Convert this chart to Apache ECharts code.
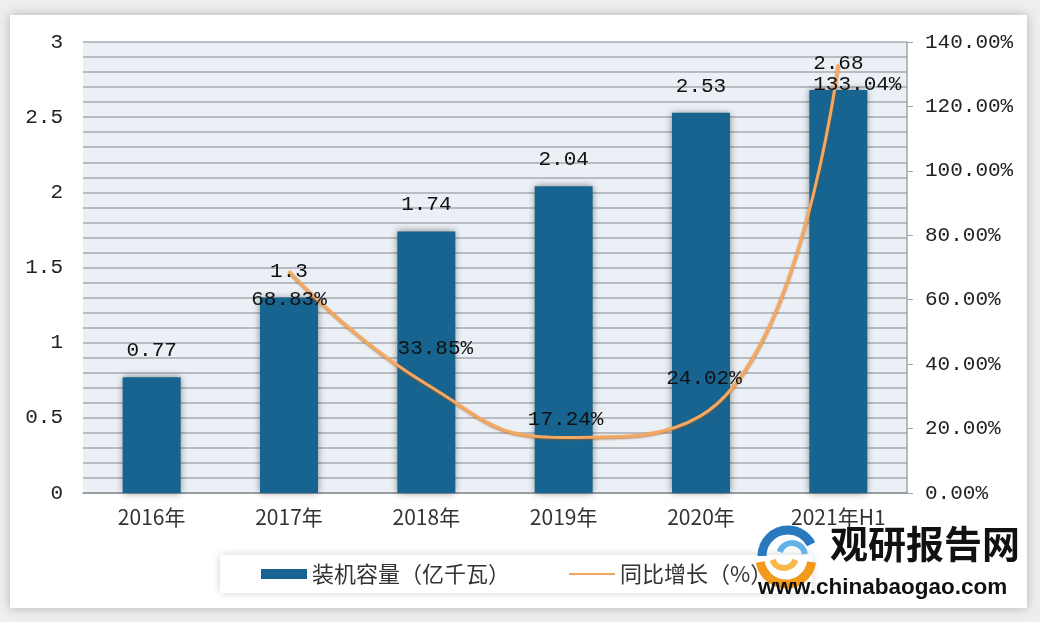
<!DOCTYPE html>
<html>
<head>
<meta charset="utf-8">
<script src="https://cdn.jsdelivr.net/npm/echarts@6/dist/echarts.min.js"></script>
<style>
html,body{margin:0;padding:0;background:#eeeeee;}
#main{width:1040px;height:622px;}
</style>
</head>
<body>
<div id="main"></div>
<script>
// ---- data ----
const categories = ['2016年', '2017年', '2018年', '2019年', '2020年', '2021年H1'];
const capacity = [0.77, 1.3, 1.74, 2.04, 2.53, 2.68];          // 装机容量（亿千瓦）
const growth = [null, 68.83, 33.85, 17.24, 24.02, 133.04];     // 同比增长（%）
const leftTicks = [0, 0.5, 1, 1.5, 2, 2.5, 3];
const rightTicks = [0, 20, 40, 60, 80, 100, 120, 140];
const seriesNames = ['装机容量（亿千瓦）', '同比增长（%）'];

// ---- style (label offsets for growth labels, px) ----
const growthLabelOffsets = [null, [0, 28], [9, -36], [2, -18], [3, -37], [19, 20]];

const numFont = 'Liberation Mono';
const cjkFont = 'Noto Sans CJK SC';

const chart = echarts.init(document.getElementById('main'));
const option = {
  backgroundColor: '#eeeeee',
  animation: false,
  graphic: [
    { type: 'rect', z: -10, shape: { x: 10, y: 15, width: 1017, height: 593 },
      style: { fill: '#ffffff', shadowBlur: 10, shadowColor: 'rgba(0,0,0,0.25)' } },
    // watermark
    { type: 'arc', z: 100, shape: { cx: 788, cy: 556, r: 26, startAngle: Math.PI * 1.0, endAngle: Math.PI * 1.85 },
      style: { stroke: '#2a78bd', lineWidth: 9, fill: null } },
    { type: 'arc', z: 100, shape: { cx: 792, cy: 556, r: 13, startAngle: Math.PI * 1.1, endAngle: Math.PI * 1.95 },
      style: { stroke: '#63b3e6', lineWidth: 6, fill: null } },
    { type: 'arc', z: 100, shape: { cx: 786, cy: 558, r: 26, startAngle: Math.PI * 0.05, endAngle: Math.PI * 0.95 },
      style: { stroke: '#f29a1c', lineWidth: 9, fill: null } },
    { type: 'arc', z: 100, shape: { cx: 784, cy: 556, r: 12, startAngle: Math.PI * 0.1, endAngle: Math.PI * 0.9 },
      style: { stroke: '#f8b84a', lineWidth: 6, fill: null } },
    { type: 'text', z: 100, left: 830, top: 525,
      style: { text: '观研报告网', fill: '#111', font: 'bold 38px "Noto Sans CJK SC"' } },
    { type: 'text', z: 100, left: 758, top: 576,
      style: { text: 'www.chinabaogao.com', fill: '#111', font: 'bold 22.5px "Liberation Sans"' } }
  ],
  grid: {
    left: 83, right: 133, top: 42, bottom: 129,
    show: true, backgroundColor: '#eaf0f5', borderWidth: 0
  },
  legend: {
    left: 220, top: 555,
    padding: [8, 40, 8, 41],
    backgroundColor: '#ffffff',
    shadowBlur: 8, shadowColor: 'rgba(0,0,0,0.18)',
    itemWidth: 46, itemHeight: 10, itemGap: 58,
    textStyle: { fontFamily: cjkFont, fontSize: 22, color: '#333' },
    data: [
      { name: seriesNames[0], icon: 'rect' },
      { name: seriesNames[1], itemStyle: { opacity: 0, color: 'rgba(0,0,0,0)', borderWidth: 0 } }
    ]
  },
  xAxis: {
    type: 'category',
    data: categories,
    axisLine: { lineStyle: { color: '#8f9397', width: 1.5 } },
    axisTick: { show: false },
    axisLabel: { fontFamily: cjkFont, fontSize: 21, color: '#333', margin: 14 }
  },
  yAxis: [
    {
      type: 'value', min: 0, max: 3, interval: 0.5,
      axisLine: { show: false }, axisTick: { show: false },
      axisLabel: { fontFamily: numFont, fontSize: 21, color: '#222', margin: 20,
        formatter: v => leftTicks.includes(v) ? String(v) : '' },
      splitLine: { show: true, lineStyle: { color: '#a7abb0', width: 1.5 } },
      minorTick: { show: false, splitNumber: 5 },
      minorSplitLine: { show: true, lineStyle: { color: '#a7abb0', width: 1.5 } }
    },
    {
      type: 'value', min: 0, max: 140, interval: 20,
      axisLine: { show: true, lineStyle: { color: '#a0a4a8', width: 1.5 } },
      axisTick: { show: true, length: 6, lineStyle: { color: '#a0a4a8' } },
      axisLabel: { fontFamily: numFont, fontSize: 21, color: '#222', margin: 18,
        formatter: v => rightTicks.includes(v) ? v.toFixed(2) + '%' : '' },
      splitLine: { show: false }
    }
  ],
  series: [
    {
      name: seriesNames[0],
      type: 'bar',
      yAxisIndex: 0,
      barWidth: 58,
      data: capacity,
      itemStyle: { color: '#16648f', shadowBlur: 7, shadowColor: 'rgba(0,0,0,0.45)' },
      label: { show: true, position: 'top', distance: 16,
        fontFamily: numFont, fontSize: 21, color: '#111' },
      z: 2
    },
    {
      name: seriesNames[1],
      type: 'line',
      yAxisIndex: 1,
      smooth: 0.5,
      symbol: 'circle',
      symbolSize: 1,
      showSymbol: true,
      connectNulls: false,
      data: growth.map((v, i) => v === null ? '-' : {
        value: v,
        label: { offset: growthLabelOffsets[i] }
      }),
      itemStyle: { color: '#f2a35a' },
      lineStyle: { color: '#f4a862', width: 3, shadowColor: 'rgba(170,90,20,0.7)', shadowBlur: 2, shadowOffsetY: 1 },
      label: { show: true, position: 'inside',
        fontFamily: numFont, fontSize: 21, color: '#111',
        formatter: p => Number(p.value).toFixed(2) + '%' },
      z: 5
    }
  ]
};
chart.setOption(option);
</script>
</body>
</html>
